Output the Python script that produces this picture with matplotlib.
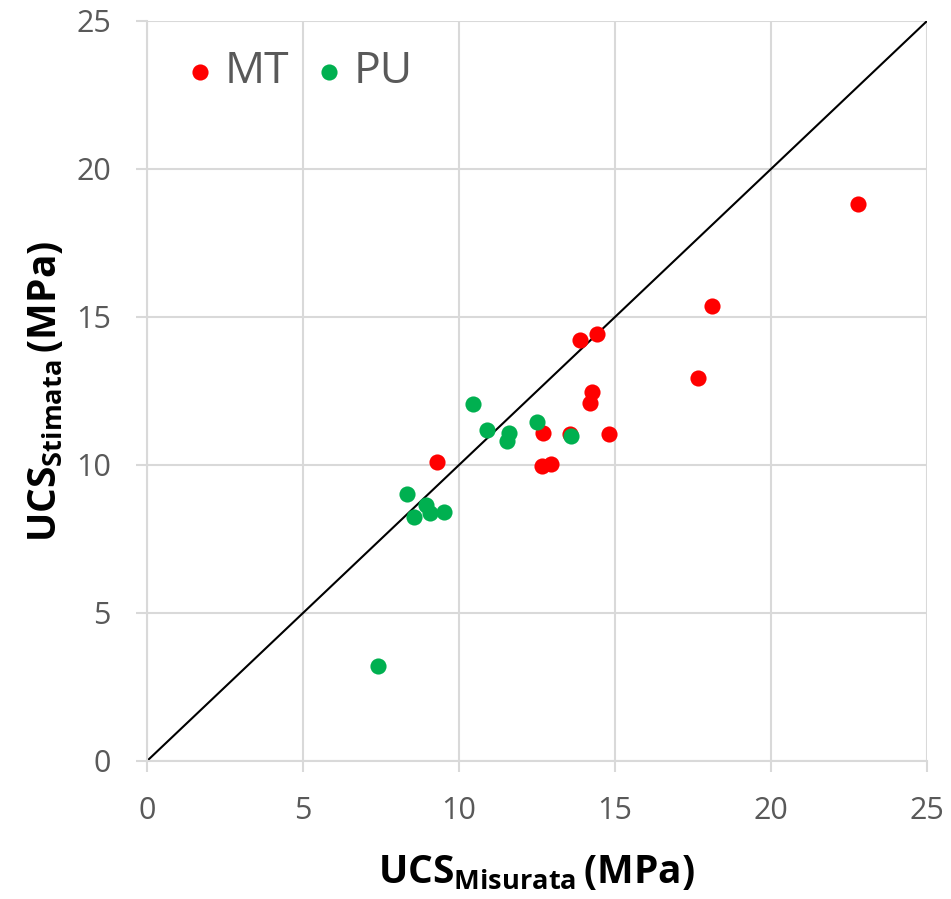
import matplotlib
matplotlib.use("Agg")
import matplotlib.pyplot as plt

# Data
mt_x = [9.28, 13.89, 14.41, 14.27, 14.20, 12.68, 13.56, 14.80, 12.67, 12.94, 22.80, 18.12, 17.67]
mt_y = [10.09, 14.21, 14.41, 12.48, 12.11, 11.09, 11.05, 11.04, 9.97, 10.03, 18.81, 15.36, 12.93]
pu_x = [10.44, 10.89, 11.59, 11.53, 12.49, 13.58, 8.32, 8.93, 8.57, 9.07, 9.53, 7.40]
pu_y = [12.05, 11.18, 11.07, 10.82, 11.44, 10.98, 9.01, 8.65, 8.25, 8.39, 8.40, 3.21]
line_x = [0, 25]
line_y = [0, 25]
ticks = [0, 5, 10, 15, 20, 25]

plt.rcParams['font.family'] = ['Open Sans', 'DejaVu Sans']
plt.rcParams['mathtext.fontset'] = 'custom'
plt.rcParams['mathtext.rm'] = 'Open Sans'
plt.rcParams['mathtext.bf'] = 'Open Sans:bold'

fig = plt.figure(figsize=(9.51, 8.99), dpi=100)
ax = fig.add_axes([147/951, 1 - 761/899, (927-147)/951, (761-21)/899])

grid_c = '#d9d9d9'
tick_c = '#595959'

ax.plot(line_x, line_y, color='black', lw=1.5, zorder=2)
ax.scatter(mt_x, mt_y, s=135, color='#ff0000', label='MT', zorder=3, linewidths=0)
ax.scatter(pu_x, pu_y, s=135, color='#00b050', label='PU', zorder=3, linewidths=0)

ax.set_xlim(0, 25)
ax.set_ylim(0, 25)
ax.set_xticks(ticks)
ax.set_yticks(ticks)
ax.grid(True, color=grid_c, lw=1.5, zorder=0)
ax.set_axisbelow(True)
for s in ['top', 'right']:
    ax.spines[s].set_visible(False)
for s in ['left', 'bottom']:
    ax.spines[s].set_color(grid_c)
    ax.spines[s].set_linewidth(1.5)
ax.tick_params(axis='both', colors=grid_c, labelcolor=tick_c, labelsize=22,
               length=8, width=1.5, direction='out')
ax.tick_params(axis='x', pad=17)
ax.tick_params(axis='y', pad=18)

ax.set_xlabel(r'$\mathbf{UCS}_{\mathbf{Misurata}}\,\mathbf{(MPa)}$', fontsize=28, labelpad=20)
ax.set_ylabel(r'$\mathbf{UCS}_{\mathbf{Stimata}}\,\mathbf{(MPa)}$', fontsize=28, labelpad=8)

leg = ax.legend(loc='center left', ncol=2, frameon=False, fontsize=32,
                handlelength=0.4, handletextpad=0.35, columnspacing=0.7,
                markerscale=1.0, borderpad=0, borderaxespad=0,
                bbox_to_anchor=((191-147)/780, (761-72)/740), labelcolor=tick_c)

fig.savefig('out.png', dpi=100)
